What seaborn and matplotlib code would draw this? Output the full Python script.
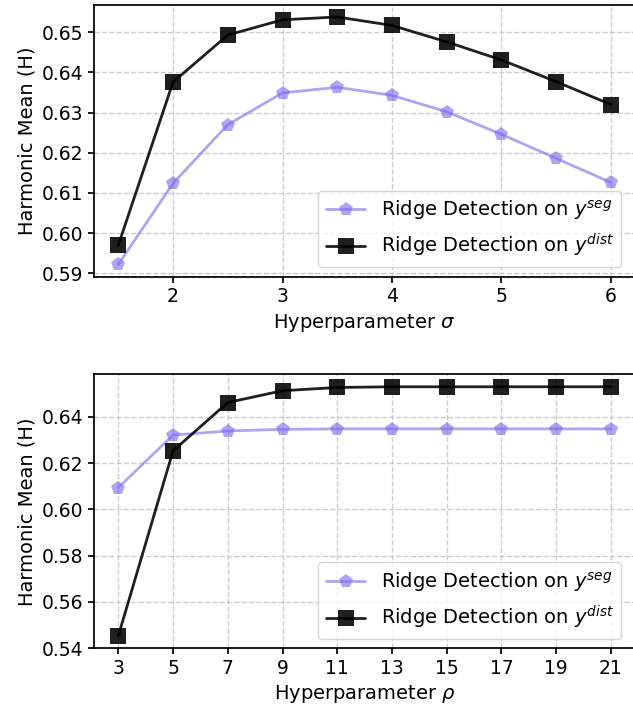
import matplotlib
matplotlib.use('Agg')
import matplotlib.pyplot as plt
import seaborn as sns

# Values
sigma = [1.5, 2.0, 2.5, 3.0, 3.5, 4.0, 4.5, 5.0, 5.5, 6.0]
sigma_seg = [0.5922, 0.6124, 0.6270, 0.6349, 0.6363, 0.6343, 0.6302, 0.6246, 0.6186, 0.6126]
sigma_dist = [0.5970, 0.6376, 0.6493, 0.6531, 0.6538, 0.6517, 0.6476, 0.6431, 0.6377, 0.6320]

rho = [3, 5, 7, 9, 11, 13, 15, 17, 19, 21]
rho_seg = [0.6094, 0.6321, 0.6339, 0.6346, 0.6348, 0.6348, 0.6348, 0.6348, 0.6348, 0.6348]
rho_dist = [0.5453, 0.6253, 0.6462, 0.6513, 0.6527, 0.6530, 0.6530, 0.6530, 0.6530, 0.6530]

seg_label = r'Ridge Detection on $y^{seg}$'
dist_label = r'Ridge Detection on $y^{dist}$'

sns.set_theme(style='ticks')
plt.rcParams['font.family'] = ['DejaVu Sans']
plt.rcParams['axes.edgecolor'] = 'black'
plt.rcParams['xtick.color'] = 'black'
plt.rcParams['ytick.color'] = 'black'
plt.rcParams['text.color'] = 'black'
plt.rcParams['axes.labelcolor'] = 'black'

fig = plt.figure(figsize=(6.33, 7.08), dpi=100)
ax1 = fig.add_axes([0.148, 0.609, 0.856, 0.3845])
ax2 = fig.add_axes([0.148, 0.0843, 0.856, 0.387])


def draw(ax, x, seg, dist, xlabel, xticks=None):
    sns.lineplot(x=x, y=seg, ax=ax, color='mediumslateblue', alpha=0.6,
                 marker='p', markersize=10, linewidth=2, markeredgewidth=0,
                 label=seg_label)
    sns.lineplot(x=x, y=dist, ax=ax, color='black', alpha=0.88,
                 marker='s', markersize=11, linewidth=2, markeredgewidth=0,
                 label=dist_label)
    ax.grid(True, linestyle='--', color='#cccccc', linewidth=1)
    ax.set_xlabel(xlabel, fontsize=14)
    ax.set_ylabel('Harmonic Mean (H)', fontsize=14)
    ax.tick_params(labelsize=13.5, length=4)
    if xticks is not None:
        ax.set_xticks(xticks)
    ax.legend(loc='lower right', fontsize=14, framealpha=0.8,
              bbox_to_anchor=(0.992, 0.0))


draw(ax1, sigma, sigma_seg, sigma_dist, r'Hyperparameter $\sigma$')
ax1.set_yticks([0.59, 0.60, 0.61, 0.62, 0.63, 0.64, 0.65])
ax1.set_yticklabels(['0.59', '0.60', '0.61', '0.62', '0.63', '0.64', '0.65'])

draw(ax2, rho, rho_seg, rho_dist, r'Hyperparameter $\rho$', xticks=rho)

plt.savefig('out.png', dpi=100)
